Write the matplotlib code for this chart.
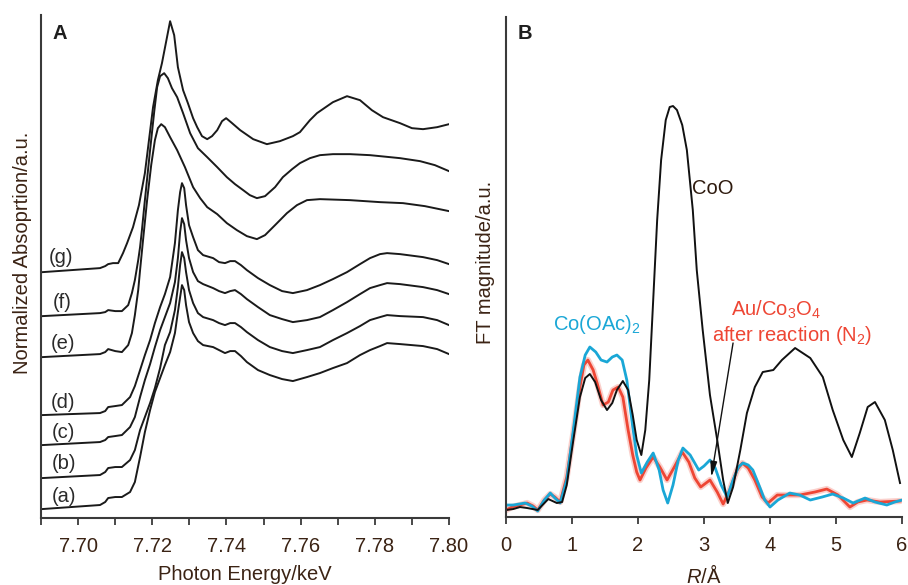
import numpy as np
import matplotlib.pyplot as plt

plt.rcParams['font.family'] = ['Liberation Sans', 'DejaVu Sans']
plt.rcParams['mathtext.fontset'] = 'custom'
plt.rcParams['mathtext.rm'] = 'Liberation Sans'
plt.rcParams['mathtext.it'] = 'Liberation Sans:italic'
plt.rcParams['lines.solid_joinstyle'] = 'round'

# ---- panel A : XANES (energy in keV, offset spectra) ----
energy_g = [7.6905, 7.7059, 7.7073, 7.7081, 7.7094, 7.7108, 7.7121, 7.7132, 7.7148, 7.7164,
            7.7180, 7.7191, 7.7202, 7.7215, 7.7226, 7.7237, 7.7248, 7.7259, 7.7269, 7.7283,
            7.7296, 7.7310, 7.7321, 7.7334, 7.7348, 7.7361, 7.7375, 7.7388, 7.7399, 7.7412,
            7.7437, 7.7472, 7.7509, 7.7544, 7.7579, 7.7598, 7.7625, 7.7644, 7.7687, 7.7725,
            7.7760, 7.7792, 7.7822, 7.7868, 7.7900, 7.7930, 7.7968, 7.8000]
abs_g = [2.46, 2.50, 2.52, 2.54, 2.55, 2.55, 2.65, 2.75, 2.91, 3.13,
         3.45, 3.78, 4.11, 4.38, 4.55, 4.76, 4.97, 4.83, 4.51, 4.28,
         4.15, 4.00, 3.91, 3.82, 3.79, 3.82, 3.88, 3.97, 4.00, 3.96,
         3.88, 3.79, 3.74, 3.77, 3.82, 3.86, 3.98, 4.05, 4.16, 4.22,
         4.18, 4.08, 4.01, 3.95, 3.90, 3.89, 3.91, 3.94]

energy_f = [7.6905, 7.7059, 7.7073, 7.7081, 7.7100, 7.7118, 7.7135, 7.7145, 7.7153, 7.7162,
            7.7167, 7.7172, 7.7180, 7.7194, 7.7205, 7.7213, 7.7221, 7.7232, 7.7242, 7.7253,
            7.7267, 7.7283, 7.7302, 7.7323, 7.7348, 7.7375, 7.7401, 7.7423, 7.7445, 7.7463,
            7.7482, 7.7504, 7.7531, 7.7552, 7.7577, 7.7598, 7.7625, 7.7652, 7.7687, 7.7733,
            7.7787, 7.7868, 7.7922, 7.7962, 7.8000]
abs_f = [2.02, 2.05, 2.06, 2.08, 2.07, 2.07, 2.13, 2.25, 2.38, 2.58,
         2.71, 2.88, 3.18, 3.68, 4.06, 4.31, 4.42, 4.45, 4.40, 4.30,
         4.21, 4.05, 3.85, 3.70, 3.61, 3.51, 3.41, 3.34, 3.28, 3.23,
         3.20, 3.22, 3.31, 3.41, 3.49, 3.55, 3.60, 3.63, 3.64, 3.64,
         3.63, 3.60, 3.57, 3.53, 3.47]

energy_e = [7.6905, 7.7059, 7.7073, 7.7081, 7.7100, 7.7118, 7.7135, 7.7145, 7.7153, 7.7162,
            7.7167, 7.7175, 7.7186, 7.7197, 7.7207, 7.7215, 7.7224, 7.7234, 7.7248, 7.7267,
            7.7288, 7.7310, 7.7329, 7.7348, 7.7375, 7.7401, 7.7428, 7.7455, 7.7482, 7.7504,
            7.7531, 7.7563, 7.7590, 7.7617, 7.7652, 7.7733, 7.7814, 7.7876, 7.7935, 7.8000]
abs_e = [1.61, 1.64, 1.66, 1.69, 1.67, 1.66, 1.73, 1.85, 2.03, 2.28,
         2.48, 2.78, 3.18, 3.53, 3.78, 3.90, 3.94, 3.91, 3.81, 3.68,
         3.51, 3.31, 3.20, 3.11, 3.04, 2.95, 2.88, 2.82, 2.79, 2.83,
         2.93, 3.05, 3.13, 3.18, 3.19, 3.18, 3.16, 3.15, 3.12, 3.07]

energy_low = [7.6905, 7.7059, 7.7073, 7.7081, 7.7100, 7.7118, 7.7140, 7.7153, 7.7167, 7.7180,
              7.7194, 7.7207, 7.7221, 7.7234, 7.7248, 7.7261, 7.7269, 7.7275, 7.7280, 7.7286,
              7.7291, 7.7299, 7.7310, 7.7323, 7.7337, 7.7364, 7.7380, 7.7396, 7.7410, 7.7423,
              7.7439, 7.7455, 7.7485, 7.7517, 7.7550, 7.7579, 7.7617, 7.7652, 7.7687, 7.7725,
              7.7760, 7.7787, 7.7814, 7.7833, 7.7868, 7.7930, 7.7968, 7.8000]
abs_d = [1.03, 1.05, 1.07, 1.11, 1.12, 1.13, 1.21, 1.32, 1.48, 1.63,
         1.78, 1.95, 2.11, 2.24, 2.41, 2.75, 3.08, 3.26, 3.35, 3.30,
         3.13, 2.93, 2.81, 2.68, 2.63, 2.60, 2.56, 2.55, 2.57, 2.57,
         2.53, 2.48, 2.40, 2.33, 2.27, 2.25, 2.28, 2.33, 2.39, 2.46,
         2.54, 2.60, 2.64, 2.65, 2.64, 2.61, 2.58, 2.54]
abs_c = [0.73, 0.76, 0.78, 0.81, 0.82, 0.83, 0.91, 1.01, 1.21, 1.38,
         1.54, 1.71, 1.88, 2.01, 2.15, 2.36, 2.60, 2.86, 3.00, 2.94,
         2.78, 2.60, 2.46, 2.37, 2.34, 2.30, 2.27, 2.25, 2.27, 2.28,
         2.24, 2.19, 2.11, 2.03, 1.99, 1.96, 1.98, 2.01, 2.08, 2.16,
         2.24, 2.30, 2.33, 2.35, 2.34, 2.31, 2.28, 2.24]
abs_b = [0.40, 0.43, 0.46, 0.50, 0.51, 0.51, 0.58, 0.68, 0.88, 1.01,
         1.15, 1.30, 1.50, 1.73, 1.86, 2.08, 2.31, 2.53, 2.66, 2.60,
         2.46, 2.28, 2.15, 2.05, 2.01, 1.98, 1.95, 1.93, 1.95, 1.95,
         1.91, 1.86, 1.78, 1.71, 1.67, 1.65, 1.68, 1.71, 1.78, 1.85,
         1.92, 1.98, 2.01, 2.03, 2.02, 2.01, 1.98, 1.93]
abs_a = [0.09, 0.13, 0.16, 0.20, 0.21, 0.21, 0.26, 0.36, 0.61, 0.86,
         1.08, 1.26, 1.40, 1.53, 1.66, 1.85, 2.06, 2.21, 2.33, 2.28,
         2.13, 1.96, 1.85, 1.77, 1.73, 1.71, 1.68, 1.65, 1.67, 1.67,
         1.62, 1.56, 1.48, 1.43, 1.39, 1.37, 1.41, 1.45, 1.50, 1.55,
         1.63, 1.68, 1.72, 1.75, 1.74, 1.72, 1.69, 1.64]

curve_names = ['(a)', '(b)', '(c)', '(d)', '(e)', '(f)', '(g)']
name_x = [7.6930, 7.6930, 7.6930, 7.6927, 7.6927, 7.6932, 7.6922]
name_y = [0.22, 0.55, 0.86, 1.16, 1.75, 2.16, 2.61]

# ---- panel B : FT of EXAFS ----
r_coo = [0.00, 0.11, 0.21, 0.32, 0.48, 0.64, 0.77, 0.85, 0.92, 1.02,
         1.12, 1.20, 1.27, 1.35, 1.44, 1.53, 1.61, 1.68, 1.77, 1.85,
         1.92, 1.98, 2.05, 2.11, 2.17, 2.23, 2.29, 2.35, 2.42, 2.48,
         2.53, 2.59, 2.67, 2.74, 2.83, 2.89, 2.98, 3.09, 3.20, 3.29,
         3.36, 3.44, 3.55, 3.65, 3.77, 3.89, 4.05, 4.18, 4.38, 4.61,
         4.80, 4.95, 5.11, 5.24, 5.36, 5.48, 5.59, 5.74, 5.86, 5.97]
ft_coo = [0.07, 0.08, 0.10, 0.09, 0.07, 0.18, 0.14, 0.15, 0.32, 0.77,
          1.20, 1.39, 1.43, 1.35, 1.17, 1.07, 1.14, 1.27, 1.36, 1.27,
          1.02, 0.77, 0.62, 0.87, 1.37, 2.17, 2.97, 3.57, 3.97, 4.10,
          4.11, 4.07, 3.92, 3.67, 3.07, 2.47, 1.87, 1.22, 0.77, 0.37,
          0.14, 0.30, 0.67, 1.04, 1.30, 1.45, 1.47, 1.57, 1.69, 1.59,
          1.40, 1.07, 0.77, 0.60, 0.84, 1.10, 1.15, 0.97, 0.67, 0.34]

r_oac = [0.00, 0.11, 0.29, 0.39, 0.48, 0.58, 0.67, 0.74, 0.82, 0.92,
         1.02, 1.12, 1.20, 1.27, 1.36, 1.44, 1.53, 1.61, 1.68, 1.76,
         1.83, 1.92, 1.98, 2.05, 2.14, 2.23, 2.32, 2.38, 2.45, 2.53,
         2.61, 2.68, 2.79, 2.92, 3.00, 3.09, 3.17, 3.26, 3.35, 3.44,
         3.52, 3.59, 3.67, 3.74, 3.85, 3.92, 4.00, 4.12, 4.30, 4.45,
         4.61, 4.79, 4.95, 5.11, 5.26, 5.44, 5.59, 5.77, 5.89, 6.00]
ft_oac = [0.12, 0.12, 0.14, 0.11, 0.06, 0.17, 0.24, 0.19, 0.14, 0.37,
          0.87, 1.40, 1.62, 1.70, 1.65, 1.57, 1.55, 1.60, 1.62, 1.57,
          1.37, 0.90, 0.62, 0.44, 0.55, 0.64, 0.47, 0.27, 0.14, 0.32,
          0.57, 0.69, 0.62, 0.47, 0.51, 0.57, 0.49, 0.32, 0.20, 0.37,
          0.50, 0.54, 0.52, 0.47, 0.29, 0.17, 0.10, 0.17, 0.24, 0.22,
          0.17, 0.20, 0.23, 0.19, 0.14, 0.19, 0.15, 0.12, 0.15, 0.17]

r_au = [0.00, 0.09, 0.21, 0.32, 0.41, 0.48, 0.58, 0.67, 0.74, 0.82,
        0.92, 1.02, 1.12, 1.18, 1.24, 1.32, 1.38, 1.47, 1.55, 1.62,
        1.70, 1.77, 1.85, 1.92, 1.98, 2.03, 2.12, 2.23, 2.33, 2.44,
        2.55, 2.67, 2.77, 2.86, 2.95, 3.09, 3.20, 3.29, 3.39, 3.50,
        3.58, 3.67, 3.77, 3.88, 3.97, 4.11, 4.30, 4.45, 4.68, 4.86,
        5.03, 5.21, 5.33, 5.47, 5.67, 5.97]
ft_au = [0.07, 0.10, 0.12, 0.14, 0.11, 0.07, 0.17, 0.23, 0.20, 0.15,
         0.40, 0.84, 1.30, 1.52, 1.57, 1.47, 1.34, 1.12, 1.15, 1.27,
         1.30, 1.20, 0.87, 0.62, 0.45, 0.37, 0.49, 0.60, 0.50, 0.37,
         0.50, 0.65, 0.55, 0.39, 0.30, 0.37, 0.25, 0.13, 0.27, 0.47,
         0.54, 0.49, 0.37, 0.20, 0.14, 0.22, 0.22, 0.22, 0.25, 0.28,
         0.22, 0.10, 0.15, 0.17, 0.15, 0.16]

txt_col = '#3b2314'
spine_col = '#3a3a3a'
blue = '#1aa7d6'
red = '#ee4634'
fs = 14.5

fig = plt.figure(figsize=(9.08, 5.85), dpi=100)
axA = fig.add_axes([0.0452, 0.1145, 0.4493, 0.8595])
axB = fig.add_axes([0.5573, 0.1162, 0.4361, 0.8547])

for ax in (axA, axB):
    for s in ('top', 'right'):
        ax.spines[s].set_visible(False)
    for s in ('left', 'bottom'):
        ax.spines[s].set_color(spine_col)
        ax.spines[s].set_linewidth(1.5)
    ax.set_yticks([])
    ax.tick_params(axis='x', which='both', direction='out', length=5, width=1.3,
                   color=spine_col, labelsize=fs, labelcolor=txt_col, pad=9)

# panel A
for en, ab in [(energy_low, abs_a), (energy_low, abs_b), (energy_low, abs_c),
               (energy_low, abs_d), (energy_e, abs_e), (energy_f, abs_f), (energy_g, abs_g)]:
    axA.plot(en, ab, color='#1a1a1a', lw=1.4)
for nm, x, y in zip(curve_names, name_x, name_y):
    axA.text(x, y, nm, fontsize=fs, color='#2a2a2a', ha='left', va='center')
axA.set_xlim(7.69, 7.80)
axA.set_ylim(0, 5.03)
axA.set_xticks(np.arange(7.70, 7.801, 0.02))
axA.set_xticks(np.arange(7.69, 7.801, 0.01), minor=True)
axA.set_xticklabels(['%.2f' % t for t in np.arange(7.70, 7.801, 0.02)])
axA.set_xlabel('Photon Energy/keV', fontsize=fs, color=txt_col, labelpad=6)
axA.set_ylabel('Normalized Absoprtion/a.u.', fontsize=fs, color=txt_col)
axA.yaxis.set_label_coords(-0.021, 0.527)
axA.text(7.6930, 4.85, 'A', fontsize=fs, fontweight='bold', color='#1e1e1e', va='center')

# panel B
axB.plot(r_au, ft_au, color=red, lw=4.5, alpha=0.25, solid_capstyle='round')
axB.plot(r_au, ft_au, color=red, lw=2.0)
axB.plot(r_oac, ft_oac, color=blue, lw=2.0)
axB.plot(r_coo, ft_coo, color='#111111', lw=1.4)
axB.set_xlim(0, 6)
axB.set_ylim(0, 5.0)
axB.set_xticks(range(0, 7))
axB.set_xlabel(r'$\it{R}$/Å', fontsize=fs, color=txt_col, labelpad=6)
axB.set_ylabel('FT magnitude/a.u.', fontsize=fs, color=txt_col)
axB.yaxis.set_label_coords(-0.028, 0.51)
axB.text(0.18, 4.84, 'B', fontsize=fs, fontweight='bold', color='#1e1e1e', va='center')
axB.text(2.82, 3.29, 'CoO', fontsize=fs, color='#2e1a0e', ha='left', va='center')
axB.text(1.38, 1.93, r'Co(OAc)$_2$', fontsize=fs, color=blue, ha='center', va='center')
axB.text(4.09, 2.07, r'Au/Co$_3$O$_4$', fontsize=fs, color=red, ha='center', va='center')
axB.text(4.33, 1.82, r'after reaction (N$_2$)', fontsize=fs, color=red, ha='center', va='center')
axB.annotate('', xy=(3.11, 0.40), xytext=(3.44, 1.74),
             arrowprops=dict(arrowstyle='-|>,head_length=0.9,head_width=0.2',
                             color='#111111', lw=1.0, shrinkA=0, shrinkB=0))

fig.savefig('out.png', dpi=100)
